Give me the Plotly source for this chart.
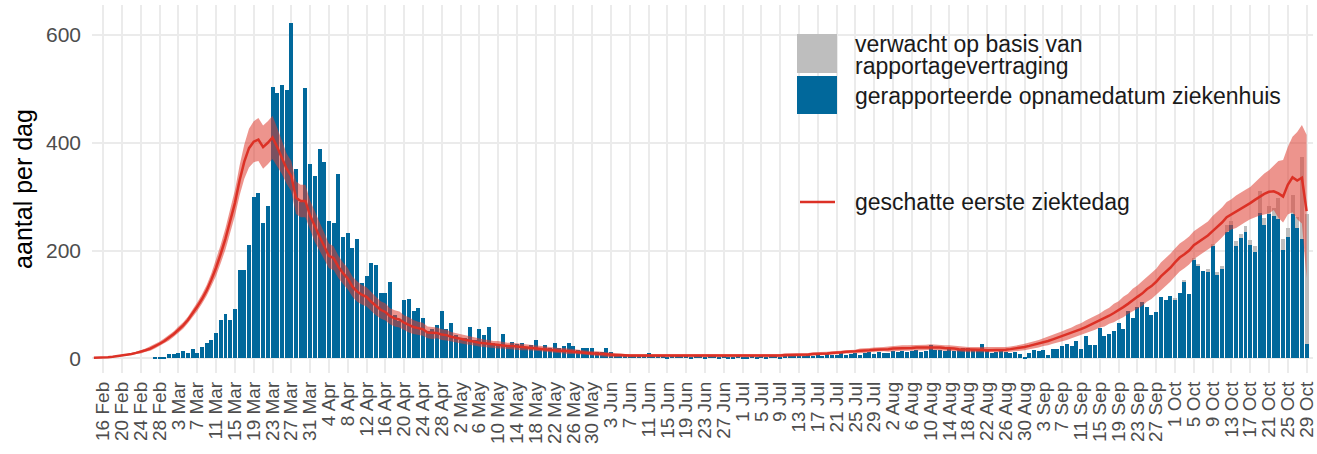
import pandas as pd
import plotly.graph_objects as go

# ---------------- data ----------------
start_date = "2020-02-14"          # first day of the daily series

# reported hospital admissions per day (blue bars), 14 Feb .. 29 Oct 2020
reported = [
    0, 0,
    0, 0, 0, 0, 0, 0, 0, 0, 0, 0,
    0, 3, 2, 1, 8, 8, 9, 13, 10, 18,
    9, 21, 29, 34, 47, 71, 83, 72, 91, 164,
    163, 211, 299, 307, 251, 282, 503, 492, 507, 498,
    623, 352, 290, 502, 360, 339, 389, 365, 255, 251,
    342, 225, 232, 204, 221, 140, 152, 177, 174, 122,
    121, 141, 80, 70, 108, 110, 88, 94, 75, 50,
    55, 62, 87, 55, 65, 43, 34, 37, 58, 34,
    54, 43, 58, 28, 27, 45, 25, 31, 27, 28,
    19, 25, 34, 19, 25, 19, 29, 19, 22, 29,
    22, 15, 19, 19, 19, 12, 12, 20, 11, 8,
    6, 6, 6, 5, 7, 4, 9, 5, 4, 6,
    3, 7, 4, 5, 4, 3, 7, 4, 3, 5,
    7, 3, 4, 2, 3, 4, 3, 2, 4, 3,
    4, 3, 5, 4, 3, 5, 4, 6, 5, 4,
    6, 5, 7, 5, 8, 6, 7, 9, 6, 8,
    10, 7, 9, 11, 8, 12, 10, 9, 13, 11,
    14, 12, 13, 15, 12, 14, 25, 15, 16, 14,
    17, 13, 15, 20, 20, 17, 16, 26, 17, 9,
    12, 14, 12, 9, 11, 8, 3, 9, 16, 14,
    16, 7, 17, 17, 22, 27, 22, 33, 17, 42,
    24, 25, 56, 42, 45, 50, 65, 54, 87, 75,
    95, 105, 95, 80, 85, 113, 108, 115, 110, 122,
    142, 119, 183, 172, 162, 161, 208, 155, 166, 235,
    248, 208, 223, 234, 211, 198, 270, 248, 268, 265,
    258, 201, 226, 268, 242, 221, 26,
]

# extra admissions expected from reporting delay (grey bars), 30 Sep .. 29 Oct
expected_start = "2020-09-30"
expected_extra = [
    0, 2, 0, 3, 0, 4, 3, 0, 5, 4,
    6, 5, 12, 6, 9, 8, 11, 8, 10, 41,
    12, 15, 14, 39, 20, 15, 36, 20, 152, 242,
]

# estimated first day of illness (red line), 14 Feb .. 29 Oct
estimate = [
    1, 1,
    2, 2, 3, 4, 5, 6, 8, 10, 12, 15,
    18, 22, 27, 32, 38, 45, 53, 61, 71, 83,
    96, 110, 126, 146, 168, 194, 222, 255, 288, 330,
    365, 390, 402, 406, 392, 400, 410, 392, 372, 352,
    338, 298, 292, 292, 265, 244, 226, 208, 190, 186,
    170, 158, 148, 133, 124, 118, 114, 105, 97, 90,
    86, 78, 74, 72, 66, 62, 58, 56, 54, 48,
    47, 47, 44, 43, 40, 38, 36, 34, 33, 31,
    29, 28, 27, 25, 25, 24, 23, 23, 22, 21,
    20, 20, 19, 18, 17, 16, 15, 14, 14, 13,
    12, 12, 11, 10, 9, 9, 8, 7, 6, 6,
    6, 5, 5, 5, 5, 5, 5, 5, 4, 4,
    4, 4, 4, 4, 4, 4, 4, 4, 4, 4,
    4, 4, 4, 4, 4, 4, 4, 4, 4, 4,
    5, 5, 5, 5, 5, 6, 6, 6, 7, 7,
    7, 8, 8, 9, 9, 10, 10, 11, 12, 12,
    13, 14, 14, 15, 16, 16, 17, 17, 18, 18,
    19, 19, 19, 20, 20, 20, 21, 20, 20, 19,
    19, 18, 17, 17, 16, 16, 16, 16, 15, 15,
    15, 16, 16, 17, 18, 19, 21, 23, 25, 27,
    30, 32, 35, 38, 41, 44, 47, 51, 54, 58,
    62, 66, 70, 74, 79, 84, 89, 95, 101, 108,
    114, 120, 128, 134, 142, 152, 160, 168, 178, 187,
    193, 200, 210, 216, 222, 228, 236, 244, 252, 262,
    267, 272, 278, 283, 288, 294, 300, 305, 309, 310,
    306, 300, 322, 336, 330, 335, 273,
]

# uncertainty band: distance above / below the estimate
band_up = [
    1, 1,
    1, 1, 1, 1, 2, 2, 2, 2, 3, 3,
    4, 4, 4, 5, 5, 5, 6, 6, 6, 7,
    8, 9, 10, 12, 15, 17, 20, 22, 24, 28,
    32, 36, 38, 40, 40, 40, 40, 36, 30, 28,
    28, 30, 30, 30, 28, 28, 26, 25, 23, 22,
    21, 20, 20, 19, 19, 18, 18, 17, 17, 16,
    16, 15, 15, 15, 14, 14, 13, 12, 12, 11,
    11, 10, 10, 10, 9, 9, 9, 8, 8, 8,
    7, 7, 7, 7, 7, 6, 6, 6, 6, 6,
    5, 5, 5, 5, 5, 5, 5, 5, 5, 5,
    4, 4, 4, 4, 4, 4, 4, 4, 4, 4,
    3, 3, 3, 3, 3, 3, 3, 3, 3, 3,
    3, 3, 3, 3, 3, 3, 3, 3, 3, 3,
    3, 3, 3, 3, 3, 3, 3, 3, 3, 3,
    3, 3, 3, 3, 3, 3, 3, 3, 3, 3,
    3, 3, 3, 3, 3, 3, 3, 3, 3, 3,
    3, 4, 4, 4, 4, 4, 4, 5, 5, 5,
    5, 5, 5, 5, 5, 5, 5, 5, 5, 5,
    5, 5, 5, 5, 5, 5, 5, 5, 5, 5,
    5, 5, 5, 5, 5, 6, 6, 6, 7, 7,
    7, 8, 8, 9, 9, 10, 10, 11, 11, 12,
    12, 13, 13, 15, 15, 17, 17, 19, 19, 21,
    21, 23, 23, 24, 24, 26, 26, 26, 26, 26,
    26, 26, 26, 26, 26, 26, 28, 28, 28, 28,
    28, 30, 30, 30, 30, 32, 35, 38, 40, 48,
    60, 68, 70, 75, 90, 98, 142,
]
band_down = [
    1, 1,
    1, 1, 1, 1, 2, 2, 2, 2, 3, 3,
    4, 4, 4, 5, 5, 5, 6, 6, 6, 7,
    8, 9, 10, 12, 15, 17, 20, 22, 24, 28,
    32, 36, 38, 40, 40, 40, 40, 36, 30, 28,
    28, 30, 30, 30, 28, 28, 26, 25, 23, 22,
    21, 20, 20, 19, 19, 18, 18, 17, 17, 16,
    16, 15, 15, 15, 14, 14, 13, 12, 12, 11,
    11, 10, 10, 10, 9, 9, 9, 8, 8, 8,
    7, 7, 7, 7, 7, 6, 6, 6, 6, 6,
    5, 5, 5, 5, 5, 5, 5, 5, 5, 5,
    4, 4, 4, 4, 4, 4, 4, 4, 4, 4,
    3, 3, 3, 3, 3, 3, 3, 3, 3, 3,
    3, 3, 3, 3, 3, 3, 3, 3, 3, 3,
    3, 3, 3, 3, 3, 3, 3, 3, 3, 3,
    3, 3, 3, 3, 3, 3, 3, 3, 3, 3,
    3, 3, 3, 3, 3, 3, 3, 3, 3, 3,
    3, 4, 4, 4, 4, 4, 4, 5, 5, 5,
    5, 5, 5, 5, 5, 5, 5, 5, 5, 5,
    5, 5, 5, 5, 5, 5, 5, 5, 5, 5,
    5, 5, 5, 5, 5, 6, 6, 6, 7, 7,
    7, 8, 8, 9, 9, 10, 10, 11, 11, 12,
    12, 13, 13, 15, 15, 17, 17, 19, 19, 21,
    21, 23, 23, 24, 24, 26, 26, 26, 26, 26,
    26, 26, 26, 26, 26, 26, 28, 28, 28, 28,
    28, 30, 30, 30, 30, 32, 35, 38, 40, 35,
    45, 48, 55, 65, 72, 85, 124,
]

y_ticks = [0, 200, 400, 600]
legend_labels = {
    "grey": ["verwacht op basis van", "rapportagevertraging"],
    "blue": "gerapporteerde opnamedatum ziekenhuis",
    "line": "geschatte eerste ziektedag",
}

# ---------------- styling ----------------
BLUE = "#01689B"
GREY = "#BEBEBE"
RED = "#DC3126"
BAND = "rgba(222,60,48,0.55)"
GRID = "#EBEBEB"
FONT = "Liberation Sans, Arial, sans-serif"

W, H = 1317, 454
ML, MR, MT, MB = 92, 4, 5, 81
PW, PH = W - ML - MR, H - MT - MB


def px_x(p):
    return (p - ML) / PW


def px_y(p):
    return (H - MB - p) / PH


dates = pd.date_range(start_date, periods=len(reported), freq="D")
exp_dates = pd.date_range(expected_start, periods=len(expected_extra), freq="D")
upper = [e + u for e, u in zip(estimate, band_up)]
lower = [max(e - d, 0) for e, d in zip(estimate, band_down)]

fig = go.Figure()
fig.add_bar(x=dates, y=reported, marker=dict(color=BLUE, line_width=0),
            name=legend_labels["blue"], showlegend=False)
fig.add_bar(x=exp_dates, y=expected_extra, marker=dict(color=GREY, line_width=0),
            name=" ".join(legend_labels["grey"]), showlegend=False)
fig.add_scatter(x=dates, y=lower, mode="lines", line=dict(width=0, color=BAND),
                hoverinfo="skip", showlegend=False)
fig.add_scatter(x=dates, y=upper, mode="lines", line=dict(width=0, color=BAND),
                fill="tonexty", fillcolor=BAND, hoverinfo="skip", showlegend=False)
fig.add_scatter(x=dates, y=estimate, mode="lines", line=dict(color=RED, width=2.5),
                name=legend_labels["line"], showlegend=False)

fig.update_layout(
    width=W, height=H,
    margin=dict(l=ML, r=MR, t=MT, b=MB, pad=0),
    paper_bgcolor="white", plot_bgcolor="white",
    barmode="stack", bargap=0.15,
    font=dict(family=FONT, color="#4D4D4D"),
    showlegend=False,
)
fig.update_xaxes(
    type="date", automargin=False,
    range=["2020-02-13 14:24", "2020-10-30 08:40"],
    tick0="2020-02-16", dtick=4 * 86400000,
    tickformat="%-d %b", tickangle=-90,
    tickfont=dict(size=19, color="#4D4D4D", family=FONT),
    showgrid=True, gridcolor=GRID, gridwidth=1.5,
    zeroline=False, showline=False, ticks="",
    ticklabelstandoff=4,
)
fig.update_yaxes(
    automargin=False,
    range=[-27.3, 655.7],
    tickvals=y_ticks,
    tickfont=dict(size=21, color="#4D4D4D", family=FONT),
    showgrid=True, gridcolor=GRID, gridwidth=1.5,
    zeroline=False, showline=False, ticks="",
    ticklabelstandoff=10,
    title=dict(text="aantal per dag", font=dict(size=25, color="black", family=FONT),
               standoff=6),
)

# legend drawn as shapes + text
shapes = [
    dict(type="rect", xref="paper", yref="paper", x0=px_x(797), x1=px_x(837),
         y0=px_y(73), y1=px_y(34), fillcolor=GREY, line_width=0),
    dict(type="rect", xref="paper", yref="paper", x0=px_x(797), x1=px_x(837),
         y0=px_y(114), y1=px_y(76), fillcolor=BLUE, line_width=0),
    dict(type="line", xref="paper", yref="paper", x0=px_x(800), x1=px_x(835),
         y0=px_y(202), y1=px_y(202), line=dict(color=RED, width=2.5)),
]
ann_font = dict(size=23, color="#1A1A1A", family=FONT)
annotations = [
    dict(text=legend_labels["grey"][0], x=px_x(853), y=px_y(44)),
    dict(text=legend_labels["grey"][1], x=px_x(853), y=px_y(66)),
    dict(text=legend_labels["blue"], x=px_x(853), y=px_y(96)),
    dict(text=legend_labels["line"], x=px_x(853), y=px_y(202)),
]
for a in annotations:
    a.update(xref="paper", yref="paper", xanchor="left", yanchor="middle",
             showarrow=False, font=ann_font)
fig.update_layout(shapes=shapes, annotations=annotations)

fig.write_html(
    "out.html",
    config={"displayModeBar": False},
    post_script="document.body.style.margin='0';document.body.style.overflow='hidden';",
)
